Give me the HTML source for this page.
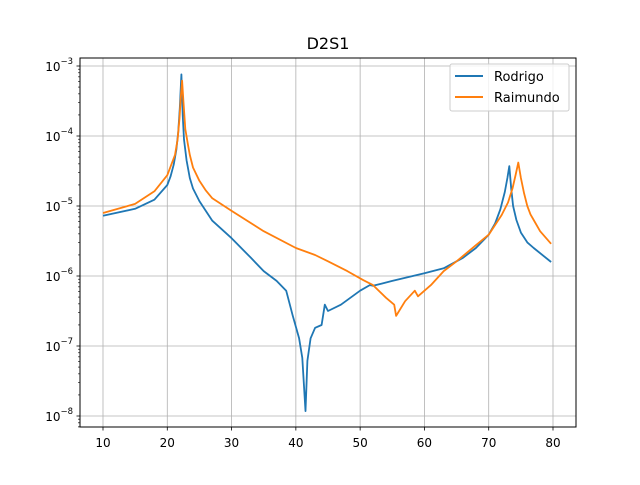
<!DOCTYPE html>
<html><head><meta charset="utf-8"><style>
body{margin:0;background:#fff;}
svg text{font-family:"DejaVu Sans","Liberation Sans",sans-serif;}
</style></head><body>
<svg id="chart" width="640" height="480" viewBox="0 0 640 480" xmlns="http://www.w3.org/2000/svg">
<rect width="640" height="480" fill="#fff"/>
<text x="328" y="49" font-size="16" text-anchor="middle">D2S1</text>
<g id="grid"></g>
<g id="ticks"></g>
<g id="lines"></g>
<rect x="80" y="58" width="496" height="369" fill="none" stroke="#000" stroke-width="1"/>
<g>
<rect x="450" y="64" width="119" height="47" rx="2" fill="#fff" fill-opacity="0.8" stroke="#ccc"/>
<line x1="455" y1="76" x2="483" y2="76" stroke="#1f77b4" stroke-width="2"/>
<text x="494" y="81" font-size="13">Rodrigo</text>
<line x1="455" y1="97" x2="483" y2="97" stroke="#ff7f0e" stroke-width="2"/>
<text x="494" y="102" font-size="13">Raimundo</text>
</g>
</svg>
<script>
const xTicks=[10,20,30,40,50,60,70,80];
const yTickExps=[-3,-4,-5,-6,-7,-8];
const rodrigoX=[10,15,18,20,20.5,21,21.4,21.7,21.95,22.2,22.4,22.6,23,23.5,24,25,27,30,33,35,37,38.5,39.5,40.5,41,41.5,41.8,42.3,43,44,44.5,45,47,50,51.5,52,55,60,63,66,68,70,71,71.8,72.5,72.9,73.2,73.5,73.8,74.3,75,76,77,79.7];
const rodrigoLog=[-5.14,-5.04,-4.91,-4.7,-4.58,-4.41,-4.2,-3.95,-3.6,-3.12,-3.7,-4.05,-4.35,-4.6,-4.75,-4.93,-5.21,-5.46,-5.74,-5.93,-6.07,-6.21,-6.56,-6.89,-7.17,-7.93,-7.21,-6.89,-6.74,-6.7,-6.41,-6.5,-6.41,-6.21,-6.13,-6.14,-6.07,-5.96,-5.89,-5.74,-5.6,-5.41,-5.25,-5.05,-4.8,-4.6,-4.43,-4.75,-5.0,-5.2,-5.38,-5.52,-5.6,-5.8];
const raimundoX=[10,15,18,20,21.2,21.6,21.9,22.1,22.3,22.5,22.8,23.2,23.5,24,25,26,27,30,35,40,43,45,48,50.5,52,54,55.3,55.6,57,58.5,59,61,63,65,68,70,72,73,73.7,74.2,74.6,75,75.5,76,76.5,77,78,79.7];
const raimundoLog=[-5.1,-4.97,-4.79,-4.56,-4.27,-4.05,-3.75,-3.45,-3.21,-3.5,-3.9,-4.12,-4.27,-4.45,-4.64,-4.78,-4.89,-5.07,-5.36,-5.6,-5.7,-5.79,-5.93,-6.06,-6.13,-6.31,-6.41,-6.57,-6.36,-6.21,-6.29,-6.13,-5.93,-5.79,-5.56,-5.41,-5.13,-4.95,-4.75,-4.55,-4.38,-4.6,-4.82,-5.0,-5.12,-5.2,-5.36,-5.54];
const NS="http://www.w3.org/2000/svg";
function xs(v){return 103+(v-10)*(450/70);}
function ys(e){return 66+(-3-e)*70;}
function mk(tag,attrs,parent){const el=document.createElementNS(NS,tag);for(const k in attrs)el.setAttribute(k,attrs[k]);parent.appendChild(el);return el;}
const grid=document.getElementById('grid'),ticks=document.getElementById('ticks'),lines=document.getElementById('lines');
xTicks.forEach(t=>{const x=xs(t);
 const g=mk('line',{x1:x,x2:x,y1:58,y2:427,stroke:'#b0b0b0','stroke-width':0.8},grid);
 
 
 mk('line',{x1:x,x2:x,y1:427,y2:430.5,stroke:'#000','stroke-width':0.8},ticks);
 const tx=mk('text',{x:x,y:447,'font-size':12,'text-anchor':'middle'},ticks);tx.textContent=t;
 
 
});
yTickExps.forEach(e=>{const y=ys(e);
 const g=mk('line',{x1:80,x2:576,y1:y,y2:y,stroke:'#b0b0b0','stroke-width':0.8},grid);
 
 
 mk('line',{x1:76.5,x2:80,y1:y,y2:y,stroke:'#000','stroke-width':0.8},ticks);
 const tx=mk('text',{x:73,y:y+5,'font-size':12,'text-anchor':'end'},ticks);
 tx.innerHTML='10<tspan dy="-7" font-size="8.5">\u2212'+(-e)+'</tspan>';
 
 
 for(let m=2;m<=9;m++){const ym=ys(e-1+Math.log10(m));if(ym<58||ym>427)continue;
  mk('line',{x1:78,x2:80,y1:ym,y2:ym,stroke:'#000','stroke-width':0.6},ticks);}
});
[-9].forEach(e=>{for(let m=2;m<=9;m++){const ym=ys(e+Math.log10(m));if(ym<58||ym>427)continue;mk('line',{x1:78,x2:80,y1:ym,y2:ym,stroke:'#000','stroke-width':0.6},ticks);}});
function drawLine(X,L,color,name){const d=X.map((v,i)=>(i?'L':'M')+xs(v).toFixed(1)+','+ys(L[i]).toFixed(1)).join(' ');
 const p=mk('path',{d:d,fill:'none',stroke:color,'stroke-width':1.8,'stroke-linejoin':'round'},lines);
 
 
}
drawLine(rodrigoX,rodrigoLog,'#1f77b4','series-rodrigo');
drawLine(raimundoX,raimundoLog,'#ff7f0e','series-raimundo');
</script>
</body></html>
